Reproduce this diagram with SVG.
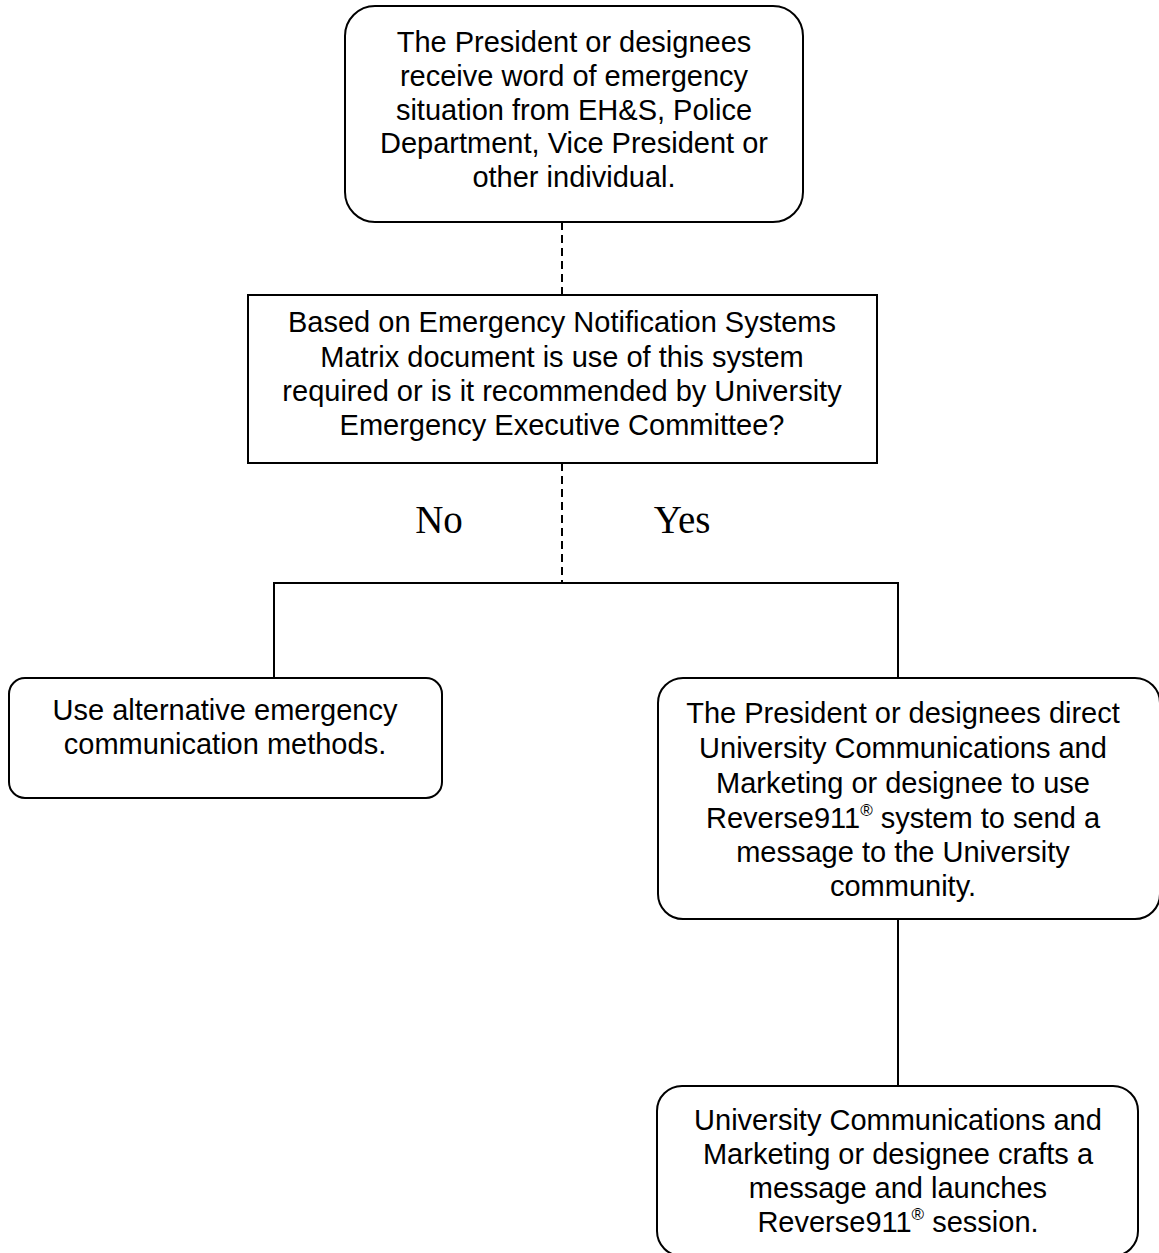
<svg xmlns="http://www.w3.org/2000/svg" width="1159" height="1253" viewBox="0 0 1159 1253">
<style>
.box{fill:#fff;stroke:#000;stroke-width:2}
.t{font-family:"Liberation Sans",Arial,sans-serif;font-size:29px;fill:#000;text-anchor:middle}
.lbl{font-family:"Liberation Serif","Times New Roman",serif;font-size:39px;fill:#000;text-anchor:middle}
.ln{fill:none;stroke:#000;stroke-width:2}
.dash{fill:none;stroke:#000;stroke-width:2;stroke-dasharray:8 5}
.sup{font-size:17px}
</style>
<rect width="1159" height="1253" fill="#fff"/>
<g id="connectors">
<line class="dash" x1="562" y1="222" x2="562" y2="295"/>
<line class="dash" x1="562" y1="463" x2="562" y2="583"/>
<polyline class="ln" points="274,678 274,583 898,583 898,678"/>
<line class="ln" x1="898" y1="919" x2="898" y2="1086"/>
<text class="lbl" x="439" y="533">No</text>
<text class="lbl" x="682" y="533">Yes</text>
</g>
<g id="n1">
<rect class="box" x="345" y="6" width="458" height="216" rx="30" ry="30"/>
<text class="t" x="574" y="52">The President or designees</text>
<text class="t" x="574" y="86">receive word of emergency</text>
<text class="t" x="574" y="120">situation from EH&amp;S, Police</text>
<text class="t" x="574" y="153">Department, Vice President or</text>
<text class="t" x="574" y="187">other individual.</text>
</g>
<g id="n2">
<rect class="box" x="248" y="295" width="629" height="168"/>
<text class="t" x="562" y="332">Based on Emergency Notification Systems</text>
<text class="t" x="562" y="367">Matrix document is use of this system</text>
<text class="t" x="562" y="401">required or is it recommended by University</text>
<text class="t" x="562" y="435">Emergency Executive Committee?</text>
</g>
<g id="n3">
<rect class="box" x="9" y="678" width="433" height="120" rx="16" ry="16"/>
<text class="t" x="225" y="720">Use alternative emergency</text>
<text class="t" x="225" y="754">communication methods.</text>
</g>
<g id="n4">
<rect class="box" x="658" y="678" width="502" height="241" rx="25" ry="25"/>
<text class="t" x="903" y="723">The President or designees direct</text>
<text class="t" x="903" y="758">University Communications and</text>
<text class="t" x="903" y="793">Marketing or designee to use</text>
<text class="t" x="903" y="828">Reverse911<tspan class="sup" dy="-12">®</tspan><tspan dy="12"> system to send a</tspan></text>
<text class="t" x="903" y="862">message to the University</text>
<text class="t" x="903" y="896">community.</text>
</g>
<g id="n5">
<rect class="box" x="657" y="1086" width="481" height="170" rx="25" ry="25"/>
<text class="t" x="898" y="1130">University Communications and</text>
<text class="t" x="898" y="1164">Marketing or designee crafts a</text>
<text class="t" x="898" y="1198">message and launches</text>
<text class="t" x="898" y="1232">Reverse911<tspan class="sup" dy="-12">®</tspan><tspan dy="12"> session.</tspan></text>
</g>
</svg>
